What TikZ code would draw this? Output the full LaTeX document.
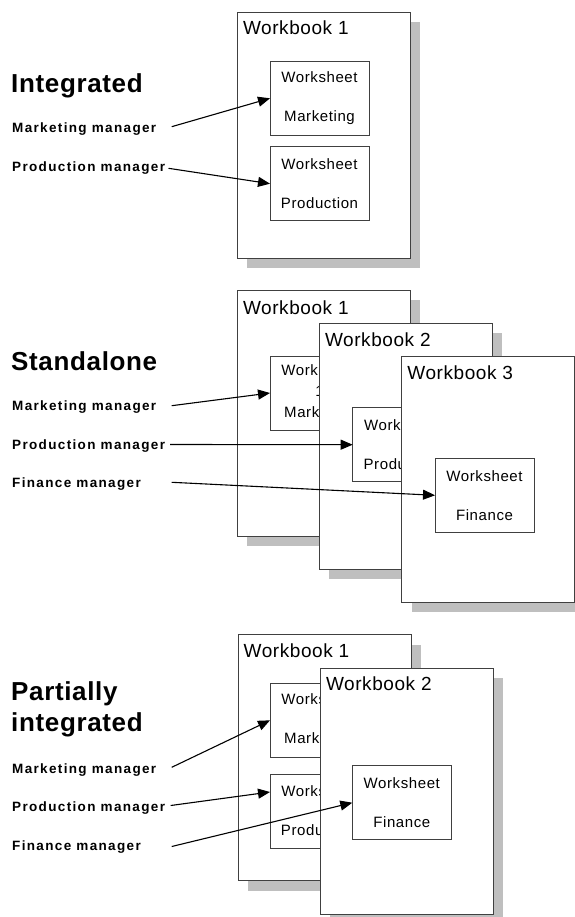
\documentclass[tikz,border=0pt]{standalone}
\usepackage{fontspec}
\setmainfont{Liberation Sans}
\newfontfamily\headfont[LetterSpace=2.5]{Liberation Sans}
\newfontfamily\mgrfont[LetterSpace=10]{Liberation Sans}
\newfontfamily\bookfont[LetterSpace=3]{Liberation Sans}
\newfontfamily\sheetfont[LetterSpace=4]{Liberation Sans}
\usetikzlibrary{arrows.meta,shadows}

\begin{document}
\begin{tikzpicture}[x=1pt,y=-1pt,every path/.style={>={Triangle[length=12pt,width=10pt]}},
  wbook/.style={draw=black!75,line width=1pt,fill=white,anchor=north west,outer sep=0pt,
    minimum width=173pt,minimum height=246pt,
    drop shadow={shadow xshift=10pt,shadow yshift=-10pt,fill=black!25,opacity=1}},
  wsheet/.style={draw=black!75,line width=1pt,fill=white,anchor=north west,outer sep=0pt,inner sep=0pt,
    minimum width=99pt,minimum height=74pt,align=center,font=\sheetfont\fontsize{15}{39}\selectfont},
  wtitle/.style={anchor=base west,inner sep=0pt,font=\bookfont\fontsize{19}{22}\selectfont},
  head/.style={anchor=base west,inner sep=0pt,font=\headfont\bfseries\fontsize{26}{31.7}\selectfont},
  mgr/.style={anchor=base west,inner sep=0pt,font=\mgrfont\bfseries\fontsize{13.5}{16}\selectfont}]
\useasboundingbox (0,0) rectangle (574,917);
% integrated
\node[head]   (ihd)  at (11,92.7)     {Integrated};
\node[mgr]    (imm)  at (12,132.3)    {Marketing manager};
\node[mgr]    (ipm)  at (12,171.7)    {Production manager};
\node[wbook]  (iwb1) at (237.3,12.3)  {};
\node[wtitle] (iwt1) at (242.8,34.5)  {Workbook 1};
\node[wsheet] (iwsm) at (270,61.3)    {Worksheet\\Marketing};
\node[wsheet] (iwsp) at (270,146.7)   {Worksheet\\Production};
\coordinate   (im0)  at (171.7,126.7);
\coordinate   (ip0)  at (168.5,168.3);
% standalone
\node[head]   (shd)  at (11,370)      {Standalone};
\node[mgr]    (smm)  at (12,410)      {Marketing manager};
\node[mgr]    (spm)  at (12,449)      {Production manager};
\node[mgr]    (sfm)  at (12,487.3)    {Finance manager};
\node[wbook]  (swb1) at (237.3,290)   {};
\node[wtitle] (swt1) at (242.8,314)   {Workbook 1};
\node[wsheet,font=\sheetfont\fontsize{15}{21}\selectfont]
              (swsm) at (270,356)     {Worksheet\\1\\Marketing};
\node[wbook]  (swb2) at (319.3,323.3) {};
\node[wtitle] (swt2) at (324.8,346.7) {Workbook 2};
\node[wsheet] (swsp) at (352.7,407.7) {Worksheet\\Production};
\node[wbook]  (swb3) at (401.7,356)   {};
\node[wtitle] (swt3) at (407.2,379.3) {Workbook 3};
\node[wsheet] (swsf) at (435,458.3)   {Worksheet\\Finance};
\coordinate   (sm0)  at (171.7,405.7);
\coordinate   (sp0)  at (170,444.5);
\coordinate   (sf0)  at (171.7,482.3);
% partially integrated
\node[head,align=left] (phd) at (11,731.7) {Partially\\integrated};
\node[mgr]    (pmm)  at (12,773.3)    {Marketing manager};
\node[mgr]    (ppm)  at (12,811.7)    {Production manager};
\node[mgr]    (pfm)  at (12,850)      {Finance manager};
\node[wbook]  (pwb1) at (238,634.7)   {};
\node[wtitle] (pwt1) at (243.5,657.3) {Workbook 1};
\node[wsheet] (pwsm) at (270,683.3)   {Worksheet\\Marketing};
\node[wsheet] (pwsp) at (270,774)     {Worksheet\\Production};
\node[wbook]  (pwb2) at (320.3,668)   {};
\node[wtitle] (pwt2) at (325.8,690)   {Workbook 2};
\node[wsheet] (pwsf) at (352.3,765.7) {Worksheet\\Finance};
\coordinate   (pm0)  at (171.7,767.3);
\coordinate   (pp0)  at (170.7,805.5);
\coordinate   (pf0)  at (171.7,846.5);
% arrows
\draw[->,line width=1.1pt] (im0) -- (iwsm.west);
\draw[->,line width=1.1pt] (ip0) -- (iwsp.west);
\draw[->,line width=1.1pt] (sm0) -- (swsm.west);
\draw[->,line width=1.1pt] (sp0) -- (swsp.west);
\draw[->,line width=1.1pt] (sf0) -- (swsf.west);
\draw[->,line width=1.1pt] (pm0) -- (pwsm.west);
\draw[->,line width=1.1pt] (pp0) -- ([yshift=19pt]pwsp.west);
\draw[->,line width=1.1pt] (pf0) -- (pwsf.west);
\end{tikzpicture}
\end{document}
